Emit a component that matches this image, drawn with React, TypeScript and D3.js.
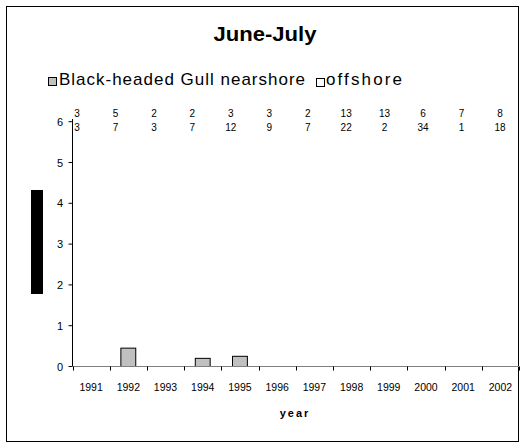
import React from "react";
import * as d3 from "d3";

const years = ["1991","1992","1993","1994","1995","1996","1997","1998","1999","2000","2001","2002"];
const nearshore = [0, 0.45, 0, 0.2, 0.25, 0, 0, 0, 0, 0, 0, 0];
const offshore = [0, 0, 0, 0, 0, 0, 0, 0, 0, 0, 0, 0];
const countsTop = ["3","5","2","2","3","3","2","13","13","6","7","8"];
const countsBottom = ["3","7","3","7","12","9","7","22","2","34","1","18"];
const yTicks = [0, 1, 2, 3, 4, 5, 6];

const W = 520, H = 448;
const FONT = "'Liberation Sans', Arial, sans-serif";

export default function App() {
  const x = d3.scaleBand<string>().domain(years).range([72.5, 519]).paddingInner(0).paddingOuter(0);
  const y = d3.scaleLinear().domain([0, 6]).range([366.5, 121.7]);
  const bw = x.bandwidth() / 2.5;
  const cx = d3.scaleLinear().domain([0, years.length - 1]).range([77, 500]);
  const boundaries = years.map((yr) => x(yr) as number).concat([x.range()[1]]);

  return (
    <svg width={W} height={H} style={{ position: "absolute", left: 0, top: 0, background: "#fff" }} fontFamily={FONT}>
      <rect x={0} y={0} width={W} height={H} fill="#fff" />
      <rect x={6.5} y={6.5} width={512} height={435} fill="none" stroke="#000" strokeWidth={1} />
      <text x={265} y={41} textAnchor="middle" fontSize={20} fontWeight="bold" textLength={103} lengthAdjust="spacingAndGlyphs">June-July</text>

      {/* legend */}
      <rect x={48.5} y={77.5} width={8} height={8} fill="#c0c0c0" stroke="#000" />
      <text x={59} y={81} fontSize={17} dominantBaseline="middle" textLength={246} lengthAdjust="spacing">Black-headed Gull  nearshore</text>
      <rect x={316.5} y={78.5} width={8} height={8} fill="#fff" stroke="#000" />
      <text x={326} y={81} fontSize={17} dominantBaseline="middle" textLength={76} lengthAdjust="spacing">offshore</text>

      {/* counts */}
      {years.map((yr, i) => (
        <g key={"c" + yr} fontSize={10} textAnchor="middle">
          <text x={cx(i)} y={117}>{countsTop[i]}</text>
          <text x={cx(i)} y={131}>{countsBottom[i]}</text>
        </g>
      ))}

      {/* redacted y label */}
      <rect x={31} y={190} width={12} height={104} fill="#000" />

      {/* y axis */}
      <line x1={72.5} x2={72.5} y1={119} y2={y(0)} stroke="#000" />
      {yTicks.map((t) => (
        <g key={"yt" + t}>
          <line x1={68.5} x2={72.5} y1={y(t)} y2={y(t)} stroke="#000" />
          <text x={63} y={y(t) + 4} textAnchor="end" fontSize={11}>{t}</text>
        </g>
      ))}

      {/* bars */}
      {years.map((yr, i) => {
        const c = (x(yr) as number) + x.bandwidth() / 2;
        if (nearshore[i] <= 0) return null;
        return (
          <rect key={"b" + yr} x={c - bw / 2} y={y(nearshore[i])} width={bw} height={y(0) - y(nearshore[i])}
            fill="#c0c0c0" stroke="#000" strokeWidth={1} />
        );
      })}
      {years.map((yr, i) => {
        const c = (x(yr) as number) + x.bandwidth() / 2;
        if (offshore[i] <= 0) return null;
        return (
          <rect key={"o" + yr} x={c - bw / 2} y={y(offshore[i])} width={bw} height={y(0) - y(offshore[i])}
            fill="#fff" stroke="#000" strokeWidth={1} />
        );
      })}

      {/* x axis */}
      <line x1={72.5} x2={519} y1={y(0)} y2={y(0)} stroke="#808080" strokeWidth={1.2} />
      {boundaries.map((b, i) => (
        <line key={"xt" + i} x1={Math.round(b) + 0.5} x2={Math.round(b) + 0.5} y1={y(0)} y2={y(0) + 4} stroke="#000" />
      ))}
      {years.map((yr) => (
        <text key={"xl" + yr} x={(x(yr) as number) + x.bandwidth() / 2} y={391} textAnchor="middle" fontSize={10.5}>{yr}</text>
      ))}
      <text x={295} y={417} textAnchor="middle" fontSize={11} fontWeight="bold" letterSpacing={2}>year</text>
    </svg>
  );
}
